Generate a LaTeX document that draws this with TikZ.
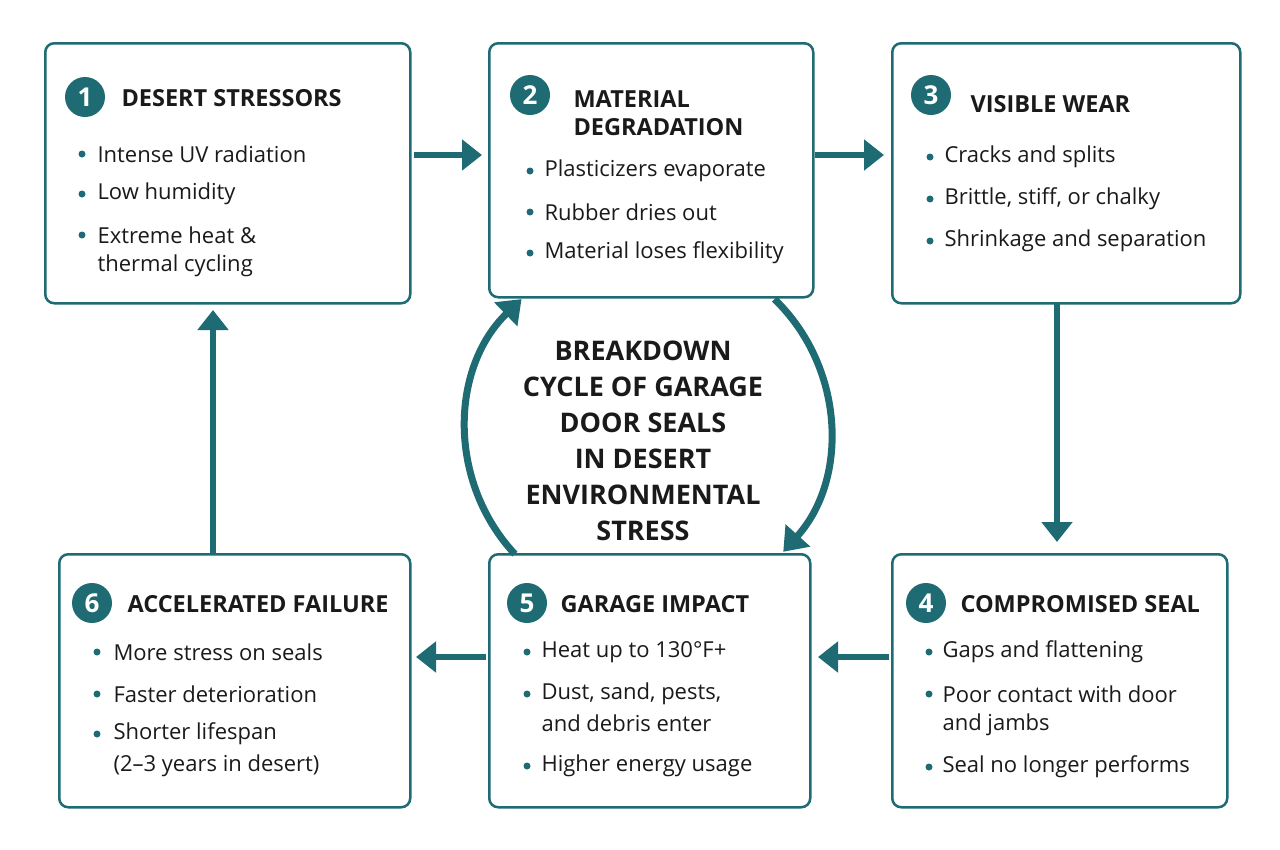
\documentclass[tikz,border=0pt]{standalone}
\usepackage{fontspec}
\setmainfont{Open Sans}
\usetikzlibrary{arrows.meta}
\definecolor{teal}{HTML}{1E6B73}
\definecolor{txt}{HTML}{1A1A1A}
\begin{document}
\begin{tikzpicture}[x=1pt,y=-1pt,
 box/.style={draw=teal,line width=2.5pt,rounded corners=9pt,fill=white},
 num/.style={circle,fill=teal,text=white,minimum size=40pt,inner sep=0pt,font=\fontsize{26}{26}\selectfont\bfseries},
 ttl/.style={anchor=west,align=left,text=txt,font=\fontsize{23.5}{28}\selectfont\bfseries},
 bul/.style={anchor=west,align=left,text=txt,font=\fontsize{22}{31}\selectfont},
 dot/.style={circle,fill=teal,minimum size=7pt,inner sep=0pt},
 arr/.style={draw=teal,line width=5.5pt,-{Triangle[length=20pt,width=30pt]}},
 carr/.style={draw=teal,line width=7pt,-{Triangle[length=22pt,width=32pt]}}]
\useasboundingbox[fill=white] (0,0) rectangle (1280,849);
% boxes
\node[box,minimum width=365pt,minimum height=260pt,anchor=north west] (b1) at (44,42) {};
\node[box,minimum width=324pt,minimum height=254pt,anchor=north west] (b2) at (488,42) {};
\node[box,minimum width=348pt,minimum height=260pt,anchor=north west] (b3) at (891,42) {};
\node[box,minimum width=335pt,minimum height=253pt,anchor=north west] (b4) at (891,553) {};
\node[box,minimum width=321pt,minimum height=253pt,anchor=north west] (b5) at (488,553) {};
\node[box,minimum width=351pt,minimum height=253pt,anchor=north west] (b6) at (58,553) {};
% box 1
\node[num] (n1) at (85,97) {1};
\node[ttl] (t1) at (118,98) {DESERT STRESSORS};
\foreach \y/\t in {154/Intense UV radiation,194/Low humidity,235/Extreme heat \&}{\node[dot] at (82,\y) {};\node[bul] at (94,\y) {\t};}
\node[bul] (c1) at (94,266) {thermal cycling};
% box 2
\node[num] (n2) at (530,95) {2};
\node[ttl] (t2) at (570,113) {MATERIAL\\DEGRADATION};
\foreach \y/\t in {171/Plasticizers evaporate,212/Rubber dries out,253/Material loses flexibility}{\node[dot] at (530,\y) {};\node[bul] at (541,\y) {\t};}
% box 3
\node[num] (n3) at (931,95) {3};
\node[ttl] (t3) at (967,104) {VISIBLE WEAR};
\foreach \y/\t in {157/Cracks and splits,199/{Brittle, stiff, or chalky},241/Shrinkage and separation}{\node[dot] at (930,\y) {};\node[bul] at (941,\y) {\t};}
% box 4
\node[num] (n4) at (926,603) {4};
\node[ttl] (t4) at (957,604) {COMPROMISED SEAL};
\foreach \y/\t in {652/Gaps and flattening,694/Poor contact with door,767/Seal no longer performs}{\node[dot] at (929,\y) {};\node[bul] at (939,\y) {\t};}
\node[bul] (c4) at (939,725) {and jambs};
% box 5
\node[num] (n5) at (527,603) {5};
\node[ttl] (t5) at (557,604) {GARAGE IMPACT};
\foreach \y/\t in {652/Heat up to 130°F+,694/{Dust, sand, pests,},766/Higher energy usage}{\node[dot] at (527,\y) {};\node[bul] at (538,\y) {\t};}
\node[bul] (c5) at (538,723) {and debris enter};
% box 6
\node[num] (n6) at (92,603) {6};
\node[ttl] (t6) at (124,604) {ACCELERATED FAILURE};
\foreach \y/\t in {652/More stress on seals,694/Faster deterioration,734/Shorter lifespan}{\node[dot] at (97,\y) {};\node[bul] at (110,\y) {\t};}
\node[bul] (c6) at (110,766) {(2–3 years in desert)};
% arrows
\coordinate (a1s) at (414,155); \coordinate (a1e) at (482,155);
\coordinate (a2s) at (815,155); \coordinate (a2e) at (884,155);
\coordinate (a3s) at (1057,304); \coordinate (a3e) at (1057,542);
\coordinate (a4s) at (889,657); \coordinate (a4e) at (818,657);
\coordinate (a5s) at (486,657); \coordinate (a5e) at (416,657);
\coordinate (a6s) at (213,553); \coordinate (a6e) at (213,310);
\draw[arr] (a1s) -- (a1e);
\draw[arr] (a2s) -- (a2e);
\draw[arr] (a3s) -- (a3e);
\draw[arr] (a4s) -- (a4e);
\draw[arr] (a5s) -- (a5e);
\draw[arr] (a6s) -- (a6e);
% cycle
\coordinate (cc) at (648,430);
\draw[carr] ([shift={(137:182)}]cc) arc[start angle=137,end angle=226,radius=182];
\draw[carr] ([shift={(-46:182)}]cc) arc[start angle=-46,end angle=42,radius=182];
\node[align=center,text=txt,font=\fontsize{27}{36}\selectfont\bfseries] (ct) at (643,441) {BREAKDOWN\\CYCLE OF GARAGE\\DOOR SEALS\\IN DESERT\\ENVIRONMENTAL\\STRESS};
\end{tikzpicture}
\end{document}
